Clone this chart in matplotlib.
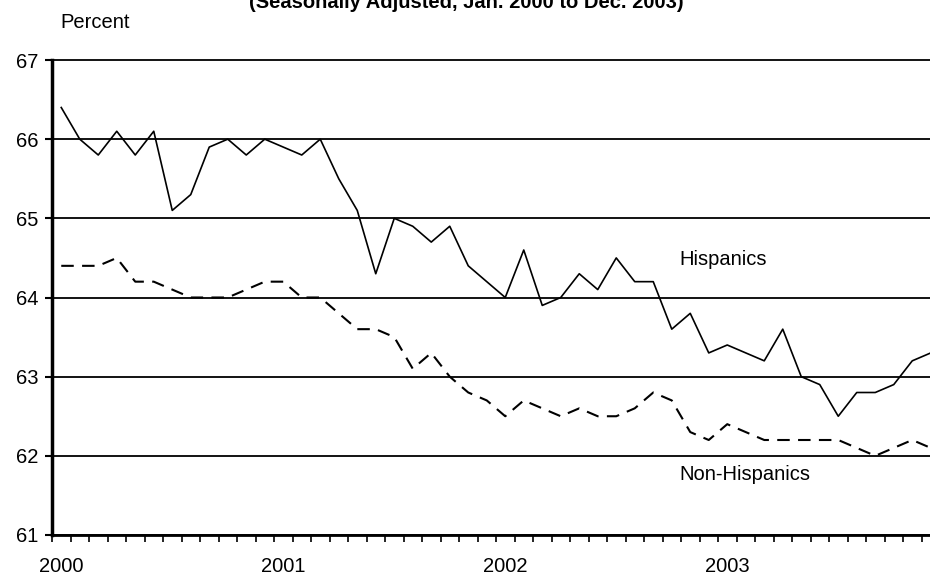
import matplotlib.pyplot as plt

# monthly values, Jan 2000 .. Dec 2003
hispanics = [66.4, 66.0, 65.8, 66.1, 65.8, 66.1, 65.1, 65.3, 65.9, 66.0, 65.8, 66.0,
             65.9, 65.8, 66.0, 65.5, 65.1, 64.3, 65.0, 64.9, 64.7, 64.9, 64.4, 64.2,
             64.0, 64.6, 63.9, 64.0, 64.3, 64.1, 64.5, 64.2, 64.2, 63.6, 63.8, 63.3,
             63.4, 63.3, 63.2, 63.6, 63.0, 62.9, 62.5, 62.8, 62.8, 62.9, 63.2, 63.3]
non_hispanics = [64.4, 64.4, 64.4, 64.5, 64.2, 64.2, 64.1, 64.0, 64.0, 64.0, 64.1, 64.2,
                 64.2, 64.0, 64.0, 63.8, 63.6, 63.6, 63.5, 63.1, 63.3, 63.0, 62.8, 62.7,
                 62.5, 62.7, 62.6, 62.5, 62.6, 62.5, 62.5, 62.6, 62.8, 62.7, 62.3, 62.2,
                 62.4, 62.3, 62.2, 62.2, 62.2, 62.2, 62.2, 62.1, 62.0, 62.1, 62.2, 62.1]
years = ['2000', '2001', '2002', '2003']
title = '(Seasonally Adjusted, Jan. 2000 to Dec. 2003)'

plt.rcParams['font.family'] = ['Liberation Sans', 'DejaVu Sans']
fs = 14.5

fig = plt.figure(figsize=(9.3, 5.75), dpi=100)
ax = fig.add_axes([52 / 930, 1 - 535 / 575, 888 / 930, 475 / 575])

months = list(range(len(hispanics)))
ax.plot(months, hispanics, color='black', lw=1.2)
ax.plot(months, non_hispanics, color='black', lw=1.5, dashes=(6, 4))

ax.set_xlim(-0.5, len(months) - 0.5)
ax.set_ylim(61, 67)
ax.set_yticks(range(61, 68))
ax.tick_params(axis='y', labelsize=fs, length=5, width=1.5, pad=5)

ax.set_xticks([12 * i for i in range(len(years))])
ax.set_xticklabels(years)
ax.set_xticks([m - 0.5 for m in range(len(months) + 1)], minor=True)
ax.tick_params(axis='x', which='major', length=0, labelsize=fs, pad=16)
ax.tick_params(axis='x', which='minor', length=5, width=1.2)

ax.yaxis.grid(True, color='black', lw=1.3)
for line in ax.get_ygridlines():
    line.set_clip_on(False)
ax.set_axisbelow(True)

for s in ['top', 'right']:
    ax.spines[s].set_visible(False)
ax.spines['left'].set_linewidth(2.5)
ax.spines['bottom'].set_linewidth(2)

ax.text(33.4, 64.48, 'Hispanics', fontsize=fs, va='center', ha='left')
ax.text(33.4, 61.76, 'Non-Hispanics', fontsize=fs, va='center', ha='left')

fig.text(60 / 930, 1 - 22 / 575, 'Percent', fontsize=fs, va='center', ha='left')
fig.text(466 / 930, 1 - 3 / 575, title, fontsize=fs, fontweight='bold',
         va='center', ha='center')

fig.savefig('out.png', dpi=100)
